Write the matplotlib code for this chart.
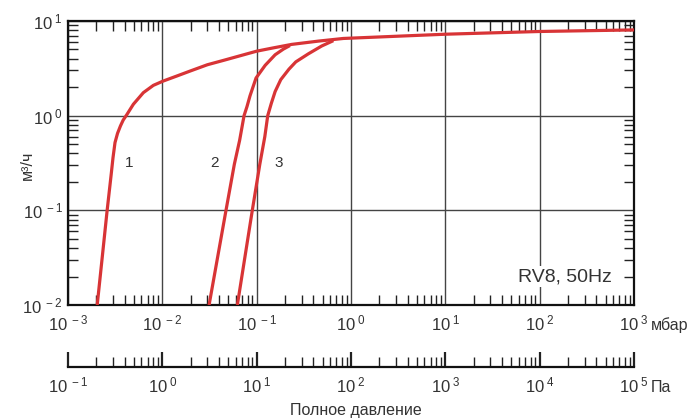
import matplotlib
matplotlib.use("Agg")
import matplotlib.pyplot as plt
from matplotlib.ticker import LogLocator, FixedLocator, NullFormatter

plt.rcParams['font.family'] = ['Liberation Sans', 'DejaVu Sans']
plt.rcParams['mathtext.fontset'] = 'custom'
plt.rcParams['mathtext.rm'] = 'Liberation Sans'
plt.rcParams['mathtext.it'] = 'Liberation Sans'

# ---- data (pressure in mbar, pumping speed in m3/h) ----
c1_p = [2.04e-3, 2.31e-3, 2.6e-3, 2.87e-3, 3.0e-3, 3.15e-3, 3.35e-3, 3.6e-3, 3.85e-3,
        4.19e-3, 4.93e-3, 6.29e-3, 8.03e-3, 0.0102, 0.0142, 0.0197, 0.03, 0.045,
        0.07, 0.1, 0.15, 0.235, 0.45, 0.83, 10, 100, 1000]
c1_s = [0.01, 0.0324, 0.1, 0.24, 0.36, 0.52, 0.65, 0.78, 0.9,
        1.02, 1.32, 1.75, 2.09, 2.32, 2.62, 2.96, 3.45, 3.85,
        4.35, 4.8, 5.2, 5.66, 6.13, 6.54, 7.25, 7.75, 8.05]

c2_p = [0.0313, 0.0473, 0.058, 0.066, 0.0735, 0.079, 0.085, 0.0985, 0.123, 0.157, 0.192, 0.225]
c2_s = [0.01, 0.1, 0.307, 0.55, 1.0, 1.25, 1.62, 2.5, 3.4, 4.4, 5.05, 5.5]

c3_p = [0.0624, 0.0899, 0.108, 0.122, 0.131, 0.143, 0.157, 0.18, 0.22, 0.26, 0.353, 0.49, 0.65]
c3_s = [0.01, 0.1, 0.307, 0.6, 1.0, 1.35, 1.8, 2.4, 3.1, 3.7, 4.5, 5.45, 6.2]

curve_labels = ['1', '2', '3']
label_p = [4.5e-3, 0.0354, 0.171]
label_s = [0.314, 0.314, 0.314]

x_decades = [1e-3, 1e-2, 1e-1, 1e0, 1e1, 1e2, 1e3]
x_ticklabels = ['-3', '-2', '-1', '0', '1', '2', '3']
y_decades = [1e-2, 1e-1, 1e0, 1e1]
y_ticklabels = ['-2', '-1', '0', '1']
pa_decades = [1e-1, 1e0, 1e1, 1e2, 1e3, 1e4, 1e5]
pa_ticklabels = ['-1', '0', '1', '2', '3', '4', '5']

RED = '#d83436'
TXT = '#333333'
FS = 12

fig = plt.figure(figsize=(6.9, 4.2), dpi=100)
L, R = 68 / 690, 634 / 690
B, T = 1 - 305 / 420, 1 - 21 / 420
ax = fig.add_axes([L, B, R - L, T - B])

for p, s in [(c1_p, c1_s), (c2_p, c2_s), (c3_p, c3_s)]:
    ax.plot(p, s, color=RED, lw=2.3, solid_joinstyle='round', solid_capstyle='butt', zorder=3)

ax.set_xscale('log')
ax.set_yscale('log')
ax.set_xlim(1e-3, 1e3)
ax.set_ylim(1e-2, 1e1)

def fmt(e):
    return r'$\mathregular{10^{\;%s}}$' % e

ax.xaxis.set_major_locator(FixedLocator(x_decades))
ax.yaxis.set_major_locator(FixedLocator(y_decades))
ax.set_xticklabels([fmt(e) for e in x_ticklabels])
ax.set_yticklabels([fmt(e) for e in y_ticklabels])
ax.xaxis.set_minor_locator(LogLocator(base=10, subs=range(2, 10), numticks=20))
ax.yaxis.set_minor_locator(LogLocator(base=10, subs=range(2, 10), numticks=20))
ax.xaxis.set_minor_formatter(NullFormatter())
ax.yaxis.set_minor_formatter(NullFormatter())

ax.tick_params(which='both', direction='in', top=True, right=True, color='#222')
ax.tick_params(which='major', length=0, labelsize=FS, labelcolor=TXT)
ax.tick_params(axis='x', which='major', pad=6)
ax.tick_params(axis='y', which='major', pad=4)
ax.tick_params(which='minor', length=7, width=1.0)

ax.grid(True, which='major', color='#444', lw=1.0)
for sp in ax.spines.values():
    sp.set_linewidth(1.6)
    sp.set_color('#111')

for t, p, s in zip(curve_labels, label_p, label_s):
    ax.text(p, s, t, fontsize=11, ha='center', va='center', color=TXT)

ax.text(10 ** 2.77, 0.02, 'RV8, 50Hz', fontsize=14, ha='right', va='center', color=TXT,
        bbox=dict(facecolor='white', edgecolor='none', pad=1.5), zorder=4)

fig.text(27 / 690, 1 - 165 / 420, 'м³/ч', fontsize=11.5, rotation=90,
         ha='center', va='center', color=TXT)

# secondary pressure axis in Pa
ax2 = fig.add_axes([L, 1 - 367 / 420, R - L, 0.05])
ax2.set_facecolor('none')
for k in ['top', 'left', 'right']:
    ax2.spines[k].set_visible(False)
ax2.spines['bottom'].set_linewidth(1.6)
ax2.spines['bottom'].set_color('#111')
ax2.set_xscale('log')
ax2.set_xlim(1e-1, 1e5)
ax2.set_yticks([])
ax2.xaxis.set_major_locator(FixedLocator(pa_decades))
ax2.set_xticklabels([fmt(e) for e in pa_ticklabels])
ax2.xaxis.set_minor_locator(LogLocator(base=10, subs=range(2, 10), numticks=20))
ax2.xaxis.set_minor_formatter(NullFormatter())
ax2.tick_params(which='both', direction='in', color='#222')
ax2.tick_params(which='major', length=11, width=1.6, labelsize=FS, pad=6, labelcolor=TXT)
ax2.tick_params(which='minor', length=7, width=1.0)

fig.text(651 / 690, 1 - 325 / 420, 'мбар', fontsize=11.5, ha='left', va='center', color=TXT)
fig.text(651 / 690, 1 - 388 / 420, 'Па', fontsize=11.5, ha='left', va='center', color=TXT)
fig.text(356 / 690, 1 - 410 / 420, 'Полное давление', fontsize=11.5, ha='center', va='center', color=TXT)

fig.savefig('out.png', dpi=100)
